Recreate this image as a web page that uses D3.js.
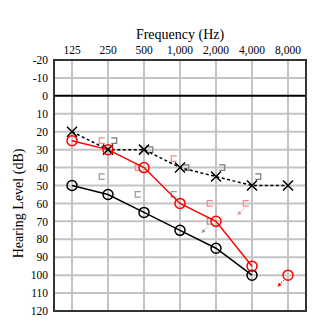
<!DOCTYPE html>
<html>
<head>
<meta charset="utf-8">
<script src="https://cdn.jsdelivr.net/npm/d3@7"></script>
<style>
  body { margin: 0; background: #fff; }
  svg { display: block; }
  text { font-family: "Liberation Serif", "DejaVu Serif", serif; }
</style>
</head>
<body>
<svg width="330" height="330"></svg>
<script>
const freqs = ['125', '250', '500', '1,000', '2,000', '4,000', '8,000']
const levels = [-20, -10, 0, 10, 20, 30, 40, 50, 60, 70, 80, 90, 100, 110, 120]

// air conduction, red circles
const rightAC = [
  {f: '125', v: 25}, {f: '250', v: 30}, {f: '500', v: 40}, {f: '1,000', v: 60},
  {f: '2,000', v: 70}, {f: '4,000', v: 95}
]
const rightACnr = [{f: '8,000', v: 100}]
// black circles
const otherAC = [
  {f: '125', v: 50}, {f: '250', v: 55}, {f: '500', v: 65}, {f: '1,000', v: 75},
  {f: '2,000', v: 85}, {f: '4,000', v: 100}
]
// crosses, dashed
const leftAC = [
  {f: '125', v: 20}, {f: '250', v: 30}, {f: '500', v: 30}, {f: '1,000', v: 40},
  {f: '2,000', v: 45}, {f: '4,000', v: 50}, {f: '8,000', v: 50}
]
// bone conduction brackets
const rightBC = [
  {f: '250', v: 25}, {f: '500', v: 40}, {f: '1,000', v: 35}, {f: '2,000', v: 60},
  {f: '4,000', v: 60, nr: true}
]
const leftBC = [
  {f: '250', v: 25}, {f: '500', v: 30}, {f: '1,000', v: 40}, {f: '2,000', v: 40},
  {f: '4,000', v: 45}
]
const otherBC = [
  {f: '250', v: 45}, {f: '500', v: 55}, {f: '1,000', v: 55}, {f: '2,000', v: 70, nr: true}
]

const svg = d3.select('svg')
const L = 54, R = 306, T = 60, B = 311

const x = d3.scaleBand().domain(freqs).range([L, R]).padding(0)
const cx = f => x(f) + x.bandwidth() / 2
const y = d3.scaleLinear().domain([-20, 120]).range([T, B])

svg.append('defs').append('marker')
  .attr('id', 'ah').attr('viewBox', '0 0 10 10')
  .attr('refX', 8).attr('refY', 5)
  .attr('markerWidth', 4).attr('markerHeight', 4)
  .attr('orient', 'auto-start-reverse')
  .append('path').attr('d', 'M0,0L10,5L0,10Z').attr('fill', 'context-stroke')

// grid
const grid = svg.append('g')
grid.selectAll('.vg').data(freqs).enter().append('line')
  .attr('x1', d => cx(d)).attr('x2', d => cx(d))
  .attr('y1', T).attr('y2', B)
  .attr('stroke', '#c4c4c4').attr('stroke-width', 2)
grid.selectAll('.hg').data(levels).enter().append('line')
  .attr('x1', L).attr('x2', R)
  .attr('y1', d => y(d)).attr('y2', d => y(d))
  .attr('stroke', d => d === 0 ? '#000' : '#c4c4c4')
  .attr('stroke-width', 2)

svg.append('rect')
  .attr('x', L).attr('y', T).attr('width', R - L).attr('height', B - T)
  .attr('fill', 'none').attr('stroke', '#333').attr('stroke-width', 2)

// axes
const xAxis = svg.append('g')
  .attr('transform', `translate(0,${T - 4})`)
  .call(d3.axisTop(x).tickSize(0).tickPadding(2))
xAxis.attr('font-family', null).attr('font-size', 11.5)
xAxis.select('.domain').remove()
xAxis.selectAll('text').attr('fill', '#000')

const yAxis = svg.append('g')
  .attr('transform', `translate(${L - 4},0)`)
  .call(d3.axisLeft(y).tickValues(levels).tickFormat(d => String(d)).tickSize(0).tickPadding(2))
yAxis.attr('font-family', null).attr('font-size', 11.5)
yAxis.select('.domain').remove()
yAxis.selectAll('text').attr('fill', '#000')

svg.append('text')
  .attr('x', (L + R) / 2).attr('y', 39)
  .attr('text-anchor', 'middle').attr('font-size', 14)
  .attr('font-family', 'Liberation Serif, serif')
  .text('Frequency (Hz)')

svg.append('text')
  .attr('transform', `translate(23,${(y(0) + B) / 2}) rotate(-90)`)
  .attr('text-anchor', 'middle').attr('font-size', 14)
  .attr('font-family', 'Liberation Serif, serif')
  .text('Hearing Level (dB)')

const line = d3.line().x(d => cx(d.f)).y(d => y(d.v))

// bracket markers
function brackets(data, color, side) {
  const s = 5.5
  const g = svg.append('g')
  data.forEach(d => {
    const bx = cx(d.f) + side * 6
    const by = y(d.v)
    const open = side < 0 ? 1 : -1
    g.append('path')
      .attr('d', `M${bx + open * s / 2},${by - s / 2}H${bx - open * s / 2}V${by + s / 2}H${bx + open * s / 2}`)
      .attr('fill', 'none').attr('stroke', color).attr('stroke-width', 1.2)
    if (d.nr) arrow(bx - 2, by + 5, color)
  })
}

function arrow(x0, y0, color) {
  svg.append('line')
    .attr('x1', x0).attr('y1', y0).attr('x2', x0 - 6).attr('y2', y0 + 6)
    .attr('stroke', color).attr('stroke-width', 1)
    .attr('stroke-dasharray', '1.5,1')
    .attr('marker-end', 'url(#ah)')
}

brackets(rightBC, '#f08a8a', -1)
brackets(leftBC, '#777', 1)
brackets(otherBC, '#999', -1)

svg.append('path').datum(leftAC).attr('d', line)
  .attr('fill', 'none').attr('stroke', '#000').attr('stroke-width', 1.5)
  .attr('stroke-dasharray', '3,2.5')
svg.append('path').datum(otherAC).attr('d', line)
  .attr('fill', 'none').attr('stroke', '#000').attr('stroke-width', 1.5)
svg.append('path').datum(rightAC).attr('d', line)
  .attr('fill', 'none').attr('stroke', '#f00').attr('stroke-width', 1.5)

// crosses
const xs = 5
svg.selectAll('.cross').data(leftAC).enter().append('path')
  .attr('d', d => {
    const px = cx(d.f), py = y(d.v)
    return `M${px - xs},${py - xs}L${px + xs},${py + xs}M${px - xs},${py + xs}L${px + xs},${py - xs}`
  })
  .attr('stroke', '#000').attr('stroke-width', 1.5)

function circles(data, color) {
  svg.append('g').selectAll('circle').data(data).enter().append('circle')
    .attr('cx', d => cx(d.f)).attr('cy', d => y(d.v)).attr('r', 5)
    .attr('fill', 'none').attr('stroke', color).attr('stroke-width', 1.5)
}
circles(otherAC, '#000')
circles(rightAC, '#f00')
circles(rightACnr, '#f00')
rightACnr.forEach(d => arrow(cx(d.f) - 4, y(d.v) + 5, '#f00'))
</script>
</body>
</html>
